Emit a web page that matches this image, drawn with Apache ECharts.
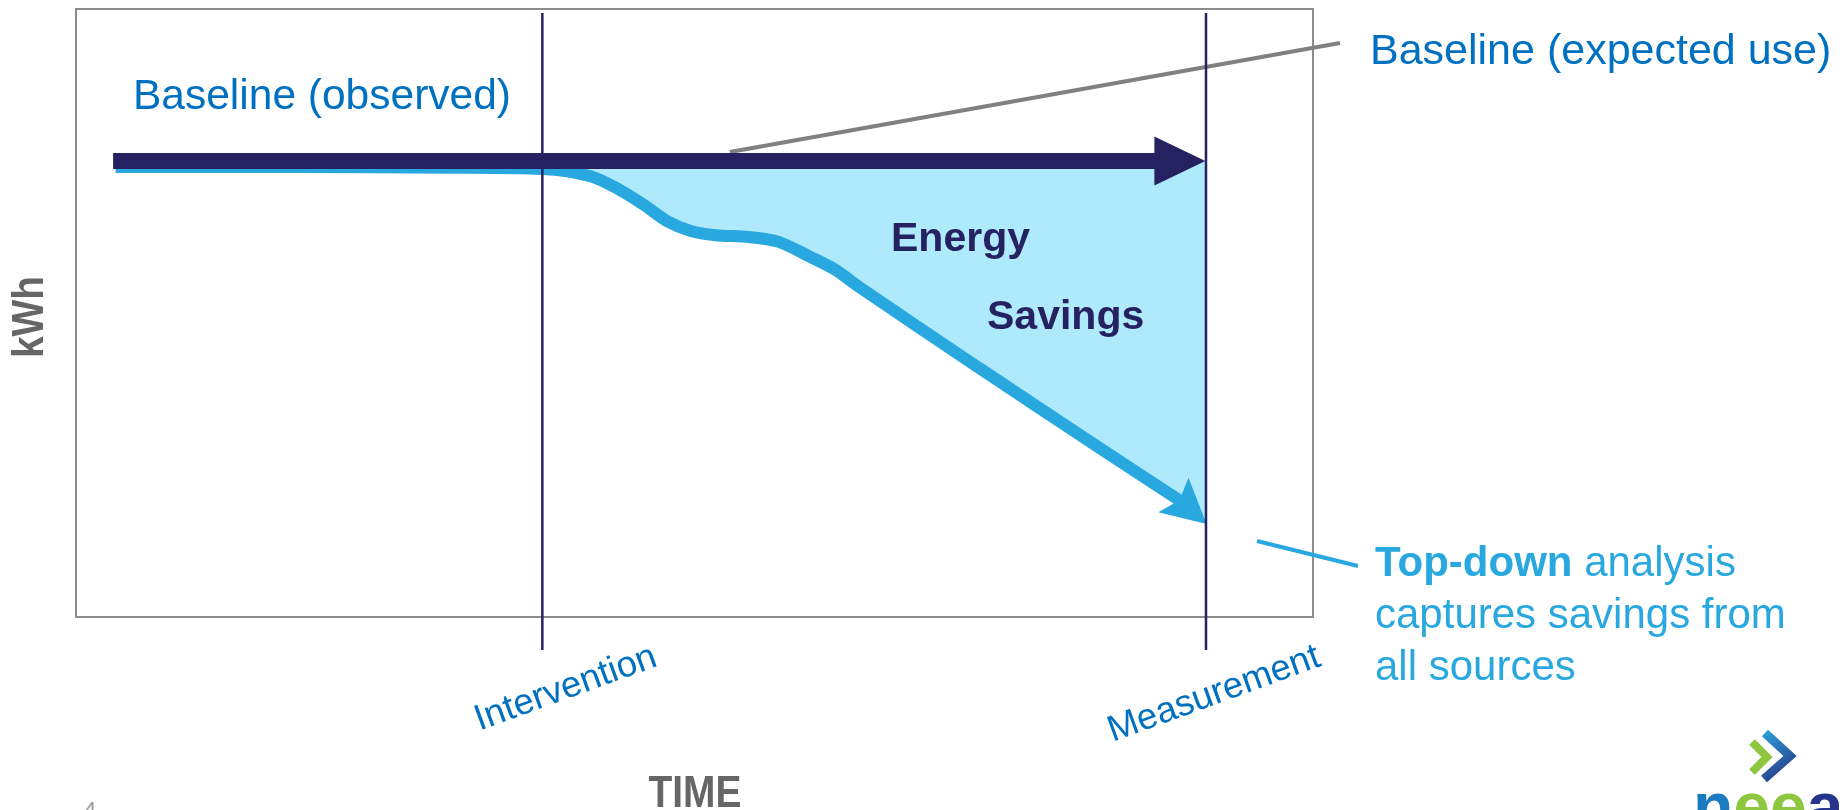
<!DOCTYPE html>
<html>
<head>
<meta charset="utf-8">
<title>Top-down savings</title>
<script src="https://cdn.jsdelivr.net/npm/echarts@6/dist/echarts.min.js"></script>
<style>
  html, body { margin: 0; padding: 0; background: #ffffff; }
  #chart { width: 1843px; height: 810px; }
</style>
</head>
<body>
<div id="chart"></div>
<script>
// Time runs 0–100 across the frame, kWh runs 0–100 up the frame.
const eventTimes = [37.7, 91.35];
const eventLabels = ['Intervention', 'Measurement'];

// Expected use carried forward from the observed baseline
const baselineTime = [3.0, 91.3];
const baselineKwh = 75;

// Observed consumption; the last point is where the arrow lands
const observedTime = [3.2, 18.1, 30.2, 37.7, 41.6, 44.0, 45.9, 47.8, 49.7, 51.7, 54.4, 56.8, 59.4, 61.4, 63.3, 72.9, 82.6, 89.2, 91.4];
const observedKwh  = [74.0, 74.0, 73.9, 73.7, 72.5, 70.2, 67.8, 65.1, 63.5, 62.8, 62.5, 61.7, 59.2, 57.1, 54.3, 41.1, 28.0, 19.2, 15.3];

const axisTitles = { x: 'TIME', y: 'kWh' };

const NAVY = '#262262';
const CYAN = '#29A8E0';
const FILL = '#AEE9FC';
const BLUE = '#0070C0';
const GREY = '#666666';
const FONT = "'Liberation Sans', Arial, Helvetica, sans-serif";

const observed = observedTime.map((t, i) => [t, observedKwh[i]]);
const observedStroke = observed.slice(0, -1);
const observedHead = observed.slice(-2);

const chart = echarts.init(document.getElementById('chart'), null, { renderer: 'canvas' });

const hiddenAxisParts = {
  axisLine: { show: false },
  axisTick: { show: false },
  axisLabel: { show: false },
  splitLine: { show: false }
};

function textStyle(extra) {
  return Object.assign({
    fontFamily: FONT,
    align: 'left', verticalAlign: 'middle',
    textAlign: 'left', textVerticalAlign: 'middle'
  }, extra);
}

const option = {
  backgroundColor: '#ffffff',
  animation: false,
  grid: {
    left: 76, top: 9, width: 1237, height: 608,
    outerBoundsMode: 'none', containLabel: false,
    show: true, borderColor: '#8c8c8c', borderWidth: 2, backgroundColor: 'transparent'
  },
  xAxis: Object.assign({ type: 'value', min: 0, max: 100 }, hiddenAxisParts),
  yAxis: Object.assign({ type: 'value', min: 0, max: 100 }, hiddenAxisParts),
  series: [
    {
      // savings area between expected and observed use
      name: 'Energy Savings',
      type: 'line',
      z: 1,
      data: observed,
      smooth: 0.3,
      showSymbol: false,
      lineStyle: { width: 0, opacity: 0 },
      areaStyle: { color: FILL, opacity: 1, origin: baselineKwh },
      silent: true
    },
    {
      name: 'Baseline (observed)',
      type: 'line',
      z: 2,
      data: observedStroke,
      smooth: 0.3,
      showSymbol: false,
      lineStyle: { width: 12, color: CYAN },
      silent: true
    },
    {
      // arrowhead on the observed curve
      type: 'custom',
      z: 3,
      data: [observedHead[0].concat(observedHead[1])],
      encode: { x: [0, 2], y: [1, 3] },
      renderItem(params, api) {
        const p0 = api.coord([api.value(0), api.value(1)]);
        const p1 = api.coord([api.value(2), api.value(3)]);
        const dx = p1[0] - p0[0], dy = p1[1] - p0[1];
        const L = Math.hypot(dx, dy);
        const ux = dx / L, uy = dy / L, nx = -uy, ny = ux;
        const len = L + 8, w = 23;
        const bx = p1[0] - ux * len, by = p1[1] - uy * len;
        return {
          type: 'polygon',
          shape: { points: [p1, [bx + nx * w, by + ny * w], p0, [bx - nx * w, by - ny * w]] },
          style: { fill: CYAN }
        };
      },
      silent: true
    },
    {
      // expected-use arrow
      name: 'Baseline (expected use)',
      type: 'custom',
      z: 4,
      data: [[baselineTime[0], baselineTime[1], baselineKwh]],
      encode: { x: [0, 1], y: 2 },
      renderItem(params, api) {
        const a = api.coord([api.value(0), api.value(2)]);
        const b = api.coord([api.value(1), api.value(2)]);
        const half = 8, headLen = 51, headHalf = 24.5;
        const bx = b[0] - headLen;
        return {
          type: 'polygon',
          shape: {
            points: [
              [a[0], a[1] - half], [bx, a[1] - half], [bx, a[1] - headHalf],
              [b[0], b[1]],
              [bx, b[1] + headHalf], [bx, b[1] + half], [a[0], a[1] + half]
            ]
          },
          style: { fill: NAVY }
        };
      },
      silent: true
    },
    {
      // event markers with slanted captions
      type: 'custom',
      z: 5,
      data: eventTimes.map((t, i) => [t, i]),
      encode: { x: 0 },
      clip: false,
      renderItem(params, api) {
        const cs = params.coordSys;
        const x = api.coord([api.value(0), 0])[0];
        const top = cs.y + 4;
        const bottom = cs.y + cs.height + 33;
        return {
          type: 'group',
          children: [
            {
              type: 'line',
              shape: { x1: x, y1: top, x2: x, y2: bottom },
              style: { stroke: NAVY, lineWidth: 2.5 }
            },
            {
              type: 'text',
              x: x + 113,
              y: bottom + 6,
              rotation: 20 * Math.PI / 180,
              style: textStyle({
                text: eventLabels[api.value(1)],
                fontSize: 36.5, fill: BLUE,
                align: 'right', textAlign: 'right'
              })
            }
          ]
        };
      },
      silent: true
    }
  ],
  graphic: [
    {
      // axis titles
      type: 'text', z: 6, x: 695, y: 795, scaleX: 0.885,
      style: textStyle({
        text: axisTitles.x, fontSize: 44, fontWeight: 'bold', fill: GREY,
        align: 'center', textAlign: 'center'
      })
    },
    {
      type: 'text', z: 6, x: 31, y: 317, scaleX: 0.885, rotation: Math.PI / 2,
      style: textStyle({
        text: axisTitles.y, fontSize: 44, fontWeight: 'bold', fill: GREY,
        align: 'center', textAlign: 'center'
      })
    },
    {
      type: 'line', z: 3,
      shape: { x1: 730, y1: 152, x2: 1340, y2: 43 },
      style: { stroke: '#808080', lineWidth: 4 }
    },
    {
      type: 'line', z: 6,
      shape: { x1: 1257, y1: 541, x2: 1358, y2: 566 },
      style: { stroke: CYAN, lineWidth: 4 }
    },
    {
      type: 'text', z: 6, x: 1370, y: 52,
      style: textStyle({ text: 'Baseline (expected use)', fontSize: 43, fill: BLUE })
    },
    {
      type: 'text', z: 6, x: 133, y: 97,
      style: textStyle({ text: 'Baseline (observed)', fontSize: 42.5, fill: BLUE })
    },
    {
      type: 'text', z: 6, x: 891, y: 240,
      style: textStyle({ text: 'Energy', fontSize: 41, fontWeight: 'bold', fill: NAVY })
    },
    {
      type: 'text', z: 6, x: 987, y: 318,
      style: textStyle({ text: 'Savings', fontSize: 41, fontWeight: 'bold', fill: NAVY })
    },
    {
      type: 'text', z: 6, x: 1375, y: 538,
      style: textStyle({
        text: '{b|Top-down} analysis\ncaptures savings from\nall sources',
        fontSize: 42, fill: CYAN, lineHeight: 52,
        verticalAlign: 'top', textVerticalAlign: 'top',
        rich: {
          b: { fontSize: 42, fontWeight: 'bold', fontFamily: FONT, fill: CYAN, color: CYAN, lineHeight: 52 }
        }
      })
    },
    {
      type: 'text', z: 6, x: 84, y: 800,
      style: textStyle({
        text: '4', fontSize: 22, fill: '#999999',
        verticalAlign: 'top', textVerticalAlign: 'top'
      })
    },
    {
      // organisation mark, bottom right
      type: 'group', z: 6,
      children: [
        {
          type: 'polyline',
          shape: { points: [[1765, 733], [1790, 756], [1764, 779]] },
          style: {
            fill: 'none', lineWidth: 9, lineJoin: 'miter',
            stroke: {
              type: 'linear', x: 0, y: 0, x2: 1, y2: 1,
              colorStops: [{ offset: 0, color: '#2aa9e0' }, { offset: 1, color: '#28287a' }]
            }
          }
        },
        {
          type: 'polyline',
          shape: { points: [[1752, 742], [1767, 757], [1752, 772]] },
          style: { fill: 'none', lineWidth: 8, stroke: '#8dc63f', lineJoin: 'miter' }
        },
        {
          type: 'text', x: 1693, y: 778,
          style: textStyle({
            text: '{n|n}{e|ee}{a|a}',
            fontSize: 66, fontWeight: 'bold',
            verticalAlign: 'top', textVerticalAlign: 'top',
            rich: {
              n: { fontSize: 66, fontWeight: 'bold', fontFamily: FONT, fill: '#1b7bc0', color: '#1b7bc0' },
              e: { fontSize: 66, fontWeight: 'bold', fontFamily: FONT, fill: '#8dc63f', color: '#8dc63f' },
              a: { fontSize: 66, fontWeight: 'bold', fontFamily: FONT, fill: '#27348b', color: '#27348b' }
            }
          })
        }
      ]
    }
  ]
};

chart.setOption(option);
</script>
</body>
</html>
